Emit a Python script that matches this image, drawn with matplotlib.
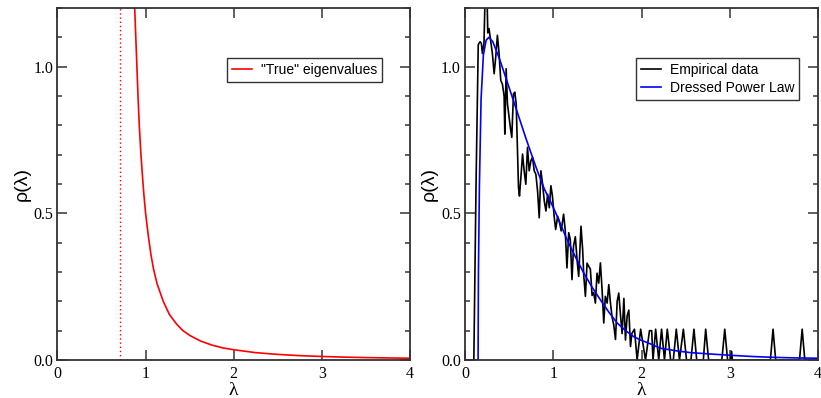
import matplotlib
matplotlib.use("Agg")
import matplotlib.pyplot as plt
from matplotlib.ticker import MultipleLocator

# "True" eigenvalue density (left panel)
lam_true = [0.875, 0.885, 0.90, 0.915, 0.93, 0.945, 0.96, 0.98, 1.0, 1.03, 1.06, 1.09, 1.13,
            1.2, 1.27, 1.35, 1.42, 1.5, 1.62, 1.75, 1.88, 2.0, 2.25, 2.5, 2.75, 3.0,
            3.25, 3.5, 3.75, 4.0]
rho_true = [1.21, 1.13, 1.01, 0.89, 0.79, 0.71, 0.645, 0.565, 0.50, 0.425, 0.36, 0.31, 0.26,
            0.20, 0.155, 0.123, 0.101, 0.084, 0.065, 0.051, 0.041, 0.035, 0.025, 0.019,
            0.0148, 0.012, 0.0098, 0.0082, 0.007, 0.006]
lam_min = 0.715

# empirical eigenvalue histogram (right panel)
lam_emp = [0.0, 0.10, 0.125, 0.15, 0.17, 0.185, 0.197, 0.215, 0.232, 0.245, 0.258, 0.272,
           0.29, 0.31, 0.33, 0.348, 0.367, 0.386, 0.405, 0.424, 0.443, 0.451, 0.466, 0.481,
           0.50, 0.515, 0.53, 0.549, 0.564, 0.58, 0.595, 0.606, 0.617, 0.633, 0.652, 0.67,
           0.689, 0.708, 0.727, 0.746, 0.765, 0.784, 0.803, 0.822, 0.841, 0.86, 0.879, 0.898,
           0.917, 0.936, 0.955, 0.973, 0.99, 1.01, 1.027, 1.05, 1.07, 1.09, 1.117, 1.135,
           1.155, 1.175, 1.193, 1.212, 1.23, 1.25, 1.27, 1.288, 1.314, 1.333, 1.345, 1.364,
           1.383, 1.40, 1.42, 1.44, 1.458, 1.477, 1.496, 1.515, 1.534, 1.553, 1.572, 1.59,
           1.61, 1.629, 1.648, 1.667, 1.685, 1.705, 1.724, 1.742, 1.76, 1.78, 1.80, 1.818,
           1.837, 1.856, 1.875, 1.89, 1.92, 1.95, 1.99, 2.045, 2.09, 2.115, 2.13, 2.16, 2.195,
           2.227, 2.26, 2.292, 2.33, 2.36, 2.394, 2.43, 2.474, 2.51, 2.56, 2.594, 2.625, 2.70,
           2.727, 2.76, 2.91, 2.943, 2.975, 3.01, 3.02, 3.03, 3.46, 3.49, 3.52, 3.79, 3.82,
           3.85, 4.0]
rho_emp = [0.0, 0.0, 0.6, 1.075, 1.085, 1.08, 1.045, 1.08, 1.3, 1.3, 1.115, 1.13,
           1.09, 1.045, 0.976, 1.033, 1.107, 1.045, 0.953, 0.94, 0.90, 0.77, 0.993, 0.873,
           0.827, 0.79, 0.759, 0.907, 0.913, 0.873, 0.714, 0.588, 0.559, 0.622, 0.702, 0.645,
           0.599, 0.725, 0.645, 0.679, 0.691, 0.645, 0.633, 0.576, 0.485, 0.645, 0.599, 0.542,
           0.508, 0.565, 0.519, 0.594, 0.56, 0.49, 0.445, 0.49, 0.47, 0.44, 0.497, 0.445,
           0.314, 0.434, 0.41, 0.274, 0.39, 0.42, 0.34, 0.285, 0.456, 0.376, 0.29, 0.217,
           0.33, 0.32, 0.31, 0.22, 0.23, 0.194, 0.296, 0.262, 0.331, 0.24, 0.126, 0.217,
           0.194, 0.257, 0.194, 0.145, 0.12, 0.07, 0.20, 0.228, 0.16, 0.09, 0.21, 0.068,
           0.15, 0.17, 0.046, 0.09, 0.105, 0.0, 0.105, 0.0, 0.10, 0.10, 0.0, 0.105, 0.0,
           0.105, 0.0, 0.105, 0.0, 0.0, 0.105, 0.0, 0.105, 0.0, 0.0, 0.105, 0.0, 0.0,
           0.105, 0.0, 0.0, 0.105, 0.0, 0.0, 0.03, 0.0, 0.0, 0.105, 0.0, 0.0, 0.105,
           0.0, 0.0]

# dressed power law fit (right panel)
lam_fit = [0.0, 0.148, 0.152, 0.163, 0.182, 0.208, 0.239, 0.27, 0.315, 0.39, 0.466, 0.58,
           0.693, 0.807, 0.9, 0.966, 1.03, 1.155, 1.25, 1.345, 1.44, 1.534, 1.63, 1.724,
           1.82, 1.91, 1.99, 2.1, 2.216, 2.4, 2.557, 2.8, 3.01, 3.25, 3.5, 3.75, 4.0]
rho_fit = [0.0, 0.0, 0.3, 0.594, 0.89, 1.04, 1.09, 1.10, 1.085, 1.027, 0.959, 0.856,
           0.753, 0.655, 0.582, 0.542, 0.50, 0.411, 0.352, 0.297, 0.248, 0.205, 0.163, 0.126,
           0.10, 0.08, 0.068, 0.055, 0.040, 0.031, 0.025, 0.02, 0.016, 0.012, 0.009, 0.007,
           0.006]

serif = "Liberation Serif"
sans = "Liberation Sans"
tick_col = "#444444"


def style_axes(ax):
    ax.set_xlim(0, 4)
    ax.set_ylim(0, 1.2)
    ax.xaxis.set_major_locator(MultipleLocator(1))
    ax.yaxis.set_major_locator(MultipleLocator(0.5))
    ax.yaxis.set_minor_locator(MultipleLocator(0.1))
    ax.tick_params(which="both", direction="in", top=True, right=True, color=tick_col,
                   width=1.2, labelsize=11.5, pad=3)
    ax.tick_params(which="major", length=7.5)
    ax.tick_params(which="minor", length=3.8)
    ax.tick_params(axis="x", pad=4)
    ax.yaxis.set_major_formatter(plt.FuncFormatter(lambda v, p: "%.1f" % v))
    for lab in ax.get_xticklabels() + ax.get_yticklabels():
        lab.set_family(serif)
    for s in ax.spines.values():
        s.set_color("#333333")
        s.set_linewidth(1.3)
    ax.set_xlabel("λ", family=serif, fontsize=14, labelpad=0.5)
    ax.set_ylabel("ρ(λ)", family=sans, fontsize=14, labelpad=2)


def add_legend(ax, anchor):
    leg = ax.legend(loc="upper right", bbox_to_anchor=anchor, prop={"family": sans, "size": 10},
                    frameon=True, fancybox=False, handlelength=1.45, handletextpad=0.65,
                    borderpad=0.35, borderaxespad=0, labelspacing=0.25)
    leg.get_frame().set_edgecolor("black")
    leg.get_frame().set_linewidth(1.0)
    return leg


fig = plt.figure(figsize=(8.21, 3.98), dpi=100)
ax1 = fig.add_axes([0.070, 0.0955, 0.4294, 0.8844])
ax2 = fig.add_axes([0.5664, 0.0955, 0.4300, 0.8844])

ax1.plot(lam_true, rho_true, color="red", linewidth=1.2, label='"True" eigenvalues')
ax1.axvline(lam_min, color="red", linestyle=(0, (1, 2)), linewidth=1.0)
style_axes(ax1)
add_legend(ax1, (0.921, 0.858))

ax2.plot(lam_emp, rho_emp, color="black", linewidth=1.2, label="Empirical data")
ax2.plot(lam_fit, rho_fit, color="blue", linewidth=1.2, label="Dressed Power Law")
style_axes(ax2)
add_legend(ax2, (0.947, 0.857))

fig.savefig("out.png", dpi=100)
